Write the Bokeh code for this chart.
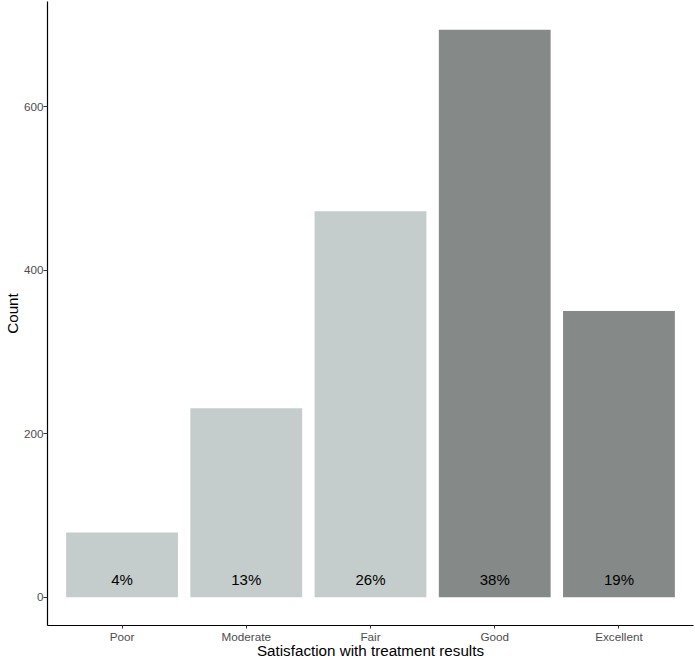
from bokeh.plotting import figure
from bokeh.models import ColumnDataSource, FactorRange, Range1d, FixedTicker
from bokeh.transform import factor_cmap
from bokeh.core.properties import value
from bokeh.embed import file_html
from bokeh.resources import INLINE

categories = ["Poor", "Moderate", "Fair", "Good", "Excellent"]
counts = [79, 231, 472, 694, 350]
pct_labels = ["4%", "13%", "26%", "38%", "19%"]
groups = ["low", "low", "low", "high", "high"]
y_ticks = [0, 200, 400, 600]
x_title = "Satisfaction with treatment results"
y_title = "Count"

FONT = "Liberation Sans"

src = ColumnDataSource(dict(cat=categories, count=counts, lab=pct_labels, grp=groups,
                            ly=[21.6] * len(categories)))

p = figure(width=695, height=661, output_backend="svg", toolbar_location=None,
           x_range=FactorRange(factors=categories, range_padding=0.1,
                               range_padding_units="absolute"),
           y_range=Range1d(-34.7, 728.7),
           min_border_left=47, min_border_right=2, min_border_top=1, min_border_bottom=35)

p.vbar(x="cat", top="count", bottom=0, width=0.9, source=src, line_color=None,
       fill_color=factor_cmap("grp", palette=["#C5CCCC", "#858A89"], factors=["low", "high"]))

p.text(x="cat", y="ly", text="lab", source=src, text_align="center",
       text_baseline="middle", text_font=value(FONT), text_font_size="15px",
       text_color="#000000")

p.outline_line_color = None
p.xgrid.visible = False
p.ygrid.visible = False
p.background_fill_color = "white"
p.border_fill_color = "white"

for ax in (p.xaxis[0], p.yaxis[0]):
    ax.axis_line_color = "#000000"
    ax.axis_line_width = 1.2
    ax.major_tick_line_color = "#333333"
    ax.major_tick_in = 0
    ax.minor_tick_line_color = None
    ax.major_label_text_font = FONT
    ax.major_label_text_font_size = "11.7px"
    ax.major_label_text_color = "#4D4D4D"
    ax.major_label_text_line_height = 1.0
    ax.axis_label_text_font = FONT
    ax.axis_label_text_font_size = "15.2px"
    ax.axis_label_text_font_style = "normal"
    ax.axis_label_text_color = "#000000"
    ax.axis_label_text_line_height = 1.0

p.xaxis.major_tick_out = 3
p.xaxis.major_label_standoff = 1
p.xaxis.axis_label_standoff = -4
p.xaxis.axis_label_text_line_height = 0.6
p.yaxis.major_tick_out = 4
p.yaxis.major_label_standoff = 0
p.yaxis.axis_label_standoff = 0

p.yaxis.ticker = FixedTicker(ticks=y_ticks)
p.yaxis.axis_label = y_title
p.xaxis.axis_label = x_title

open("out.html", "w").write(file_html(p, INLINE))
